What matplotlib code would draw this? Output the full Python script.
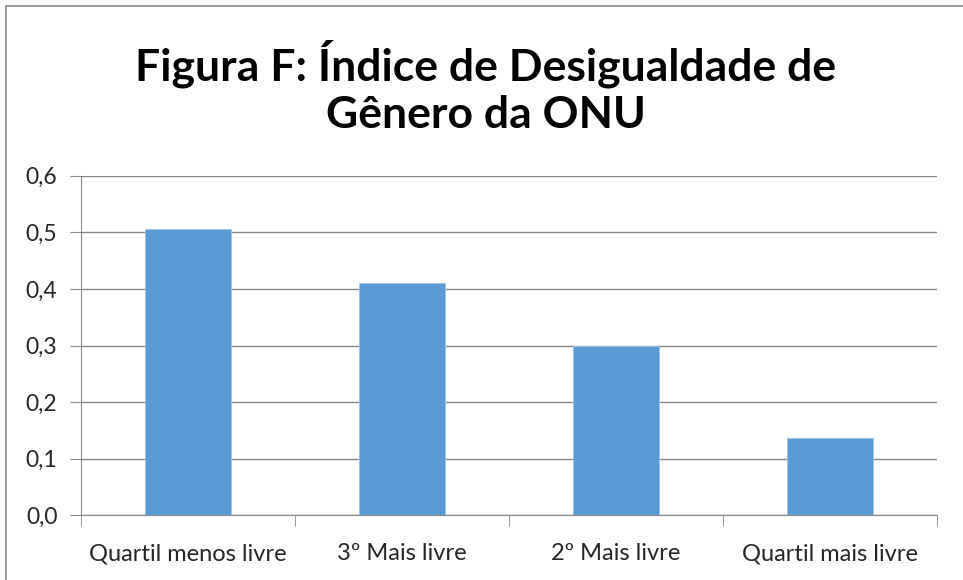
import matplotlib.pyplot as plt
from matplotlib.patches import Rectangle
import numpy as np

plt.rcParams['font.family'] = ['Lato', 'DejaVu Sans']

# data
categorias = ['Quartil menos livre', '3º Mais livre', '2º Mais livre', 'Quartil mais livre']
valores = [0.505, 0.41, 0.30, 0.137]
yticks = [0.0, 0.1, 0.2, 0.3, 0.4, 0.5, 0.6]
titulo = 'Figura F: Índice de Desigualdade de\nGênero da ONU'

W, H = 963, 580
fig = plt.figure(figsize=(W / 100, H / 100), dpi=100)
ax = fig.add_axes([81 / W, 1 - 515.3 / H, (937 - 81) / W, (515.3 - 175.7) / H])

# outer chart border (cropped on right/bottom)
fig.patches.append(Rectangle((5.5 / W, -0.1), 1.2, 1 - 5.5 / H + 0.1, transform=fig.transFigure,
                             fill=False, edgecolor='#898989', linewidth=1.2))

x = np.arange(len(categorias))
ax.bar(x, valores, width=0.4, color='#5B9BD5', edgecolor='#9DC3E6', linewidth=0.6, zorder=3)

ax.set_xlim(-0.5, len(categorias) - 0.5)
ax.set_ylim(0, 0.6)
ax.set_yticks(yticks)
ax.set_yticklabels([f'{v:.1f}'.replace('.', ',') for v in yticks], fontsize=16.5, color='#262626')
ax.set_xticks(x)
ax.set_xticklabels(categorias, fontsize=17, color='#262626')
ax.set_xticks(np.arange(-0.5, len(categorias)), minor=True)

ax.grid(axis='y', color='#898989', linewidth=1, zorder=0)
for s in ['top', 'right']:
    ax.spines[s].set_visible(False)
ax.spines['left'].set_color('#898989')
ax.spines['bottom'].set_color('#898989')
ax.tick_params(axis='y', length=8, color='#898989', pad=9)
ax.tick_params(axis='x', which='major', length=0, pad=20)
ax.tick_params(axis='x', which='minor', length=8, color='#898989')

fig.text(486 / W, 1 - 87 / H, titulo, ha='center', va='center', fontsize=32,
         fontweight='bold', color='black', linespacing=1.22)

fig.savefig('out.png', dpi=100, facecolor='white')
